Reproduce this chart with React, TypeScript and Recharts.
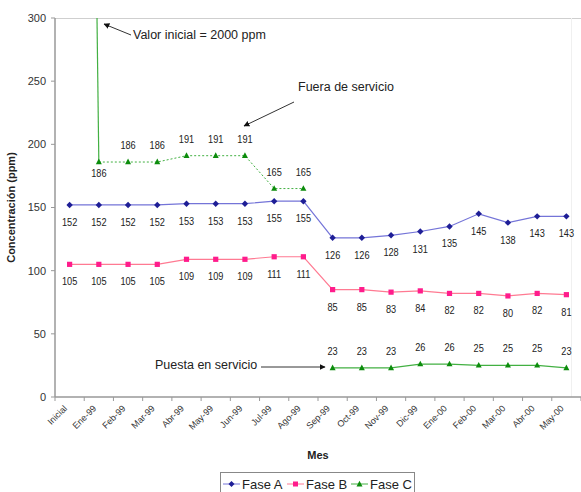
import React from 'react';
import { LineChart, Line, XAxis, YAxis, LabelList, Label } from 'recharts';

const meses = [
  'Inicial', 'Ene-99', 'Feb-99', 'Mar-99', 'Abr-99', 'May-99', 'Jun-99', 'Jul-99', 'Ago-99',
  'Sep-99', 'Oct-99', 'Nov-99', 'Dic-99', 'Ene-00', 'Feb-00', 'Mar-00', 'Abr-00', 'May-00',
];
const faseA = [152, 152, 152, 152, 153, 153, 153, 155, 155, 126, 126, 128, 131, 135, 145, 138, 143, 143];
const faseB = [105, 105, 105, 105, 109, 109, 109, 111, 111, 85, 85, 83, 84, 82, 82, 80, 82, 81];
const faseC = [2000, 186, 186, 186, 191, 191, 191, 165, 165, 23, 23, 23, 26, 26, 25, 25, 25, 23];
const yTicks = [0, 50, 100, 150, 200, 250, 300];

// tramos de la fase C: arranque, fuera de servicio (Ene-99..Ago-99) y puesta en servicio (Sep-99..)
const FIN_ARRANQUE = 1;
const FIN_FUERA = 8;

const data = meses.map((mes, i) => ({
  mes,
  a: faseA[i],
  b: faseB[i],
  cIni: i <= FIN_ARRANQUE ? faseC[i] : null,
  cFuera: i >= FIN_ARRANQUE && i <= FIN_FUERA ? faseC[i] : null,
  cServ: i > FIN_FUERA ? faseC[i] : null,
}));

const W = 581;
const H = 492;
const TOP = 18;
const EJE_Y = 55;
const BANDA = (W - EJE_Y) / meses.length;

const AZUL = '#7474d8';
const AZUL_M = '#1e1e96';
const ROSA = '#ff7a92';
const ROSA_M = '#ff1c8c';
const VERDE = '#42b042';
const VERDE_M = '#0c8c0c';

const FUENTE = '"Liberation Sans", Arial, sans-serif';

// texto estrecho (Arial Narrow no está disponible): se comprime en horizontal
const Estrecho = ({ x, y, size = 11, anchor = 'middle', children }: any) => (
  <text
    transform={`translate(${x},${y}) scale(0.8,1)`}
    textAnchor={anchor}
    fontSize={size}
    fontFamily={FUENTE}
    fill="#222"
  >
    {children}
  </text>
);

const Rombo = (p: any) => {
  const { cx, cy, index } = p;
  if (cx == null || cy == null) return <g key={index} />;
  return <polygon key={index} points={`${cx},${cy - 3.2} ${cx + 3.2},${cy} ${cx},${cy + 3.2} ${cx - 3.2},${cy}`} fill={AZUL_M} />;
};

const Cuadro = (p: any) => {
  const { cx, cy, index } = p;
  if (cx == null || cy == null) return <g key={index} />;
  return <rect key={index} x={cx - 2.6} y={cy - 2.6} width={5.2} height={5.2} fill={ROSA_M} />;
};

const Triangulo = (p: any) => {
  const { cx, cy, index } = p;
  if (cx == null || cy == null) return <g key={index} />;
  return <polygon key={index} points={`${cx},${cy - 3.4} ${cx + 3},${cy + 2.2} ${cx - 3},${cy + 2.2}`} fill={VERDE_M} />;
};

// etiqueta de valor sobre o bajo cada punto
const etiqueta = (dy: (i: number) => number) => (p: any) => {
  const x = p.x ?? p.viewBox?.x;
  const y = p.y ?? p.viewBox?.y;
  if (p.value == null || x == null || y == null) return null;
  return (
    <Estrecho key={p.index} x={x} y={y + dy(p.index)} size={11.5}>
      {p.value}
    </Estrecho>
  );
};

const TickMes = (p: any) => {
  const { x, y, payload, index } = p;
  return (
    <g transform={`translate(${x},${y})`}>
      <line x1={-BANDA / 2} x2={-BANDA / 2} y1={0} y2={4} stroke="#999" />
      {index === meses.length - 1 && <line x1={BANDA / 2} x2={BANDA / 2} y1={0} y2={4} stroke="#999" />}
      <text transform="translate(-2,12) rotate(-45)" textAnchor="end" fontSize={9} fontFamily={FUENTE} fill="#333">
        {payload.value}
      </text>
    </g>
  );
};

const Flecha = ({ x1, y1, x2, y2 }: { x1: number; y1: number; x2: number; y2: number }) => (
  <line x1={x1} y1={y1} x2={x2} y2={y2} stroke="#333" strokeWidth={1} markerEnd="url(#punta)" />
);

export default function App() {
  return (
    <div style={{ position: 'absolute', left: 0, top: 0, width: W, height: H, background: '#fff', overflow: 'hidden' }}>
      <svg width={W} height={H} style={{ position: 'absolute', left: 0, top: 0 }}>
        {/* borde superior y derecho del área de trazado */}
        <line x1={EJE_Y} x2={W} y1={TOP + 0.5} y2={TOP + 0.5} stroke="#cfcfcf" />
        <line x1={W - 9.5} x2={W - 9.5} y1={TOP} y2={397} stroke="#f0f0f0" />
      </svg>
      <LineChart
        width={W}
        height={H}
        data={data}
        margin={{ top: TOP, right: 0, bottom: 0, left: 0 }}
        style={{ position: 'absolute', left: 0, top: 0 }}
      >
        <XAxis
          dataKey="mes"
          height={H - 397}
          interval={0}
          padding={{ left: BANDA / 2, right: BANDA / 2 }}
          tickSize={0}
          tickMargin={0}
          tickLine={false}
          axisLine={{ stroke: '#999', strokeWidth: 1.5 }}
          tick={<TickMes />}
        >
          <Label value="Mes" position="insideBottom" offset={33} fontSize={11} fontWeight="bold" fontFamily={FUENTE} fill="#222" />
        </XAxis>
        <YAxis
          width={EJE_Y}
          domain={[0, 300]}
          ticks={yTicks}
          allowDataOverflow
          tickSize={4}
          tickMargin={5}
          axisLine={{ stroke: '#999', strokeWidth: 1.5 }}
          tickLine={{ stroke: '#999' }}
          tick={{ fontSize: 11, fill: '#333', fontFamily: FUENTE }}
        >
          <Label
            content={(p: any) => {
              const vb = p.viewBox || { x: 0, y: TOP, height: 379 };
              return (
                <text
                  transform={`translate(${vb.x + 15},${vb.y + vb.height / 2}) rotate(-90)`}
                  textAnchor="middle"
                  fontSize={11}
                  fontWeight="bold"
                  fontFamily={FUENTE}
                  fill="#222"
                >
                  Concentración (ppm)
                </text>
              );
            }}
          />
        </YAxis>

        <Line dataKey="a" name="Fase A" stroke={AZUL} strokeWidth={1.2} dot={Rombo} activeDot={false} isAnimationActive={false}>
          <LabelList dataKey="a" content={etiqueta(() => 21)} />
        </Line>
        <Line dataKey="b" name="Fase B" stroke={ROSA} strokeWidth={1.2} dot={Cuadro} activeDot={false} isAnimationActive={false}>
          <LabelList dataKey="b" content={etiqueta(() => 21)} />
        </Line>
        <Line dataKey="cIni" stroke={VERDE} strokeWidth={1.2} dot={false} activeDot={false} legendType="none" isAnimationActive={false} />
        <Line
          dataKey="cFuera"
          stroke={VERDE}
          strokeWidth={1}
          strokeDasharray="2 2"
          dot={Triangulo}
          activeDot={false}
          legendType="none"
          isAnimationActive={false}
        >
          <LabelList dataKey="cFuera" content={etiqueta((i) => (i === FIN_ARRANQUE ? 15 : -13))} />
        </Line>
        <Line dataKey="cServ" name="Fase C" stroke={VERDE} strokeWidth={1.2} dot={Triangulo} activeDot={false} isAnimationActive={false}>
          <LabelList dataKey="cServ" content={etiqueta(() => -13)} />
        </Line>
      </LineChart>

      <svg width={W} height={H} style={{ position: 'absolute', left: 0, top: 0, pointerEvents: 'none' }}>
        <defs>
          <marker id="punta" viewBox="0 0 10 10" refX={9} refY={5} markerWidth={6} markerHeight={6} orient="auto">
            <path d="M0,0 L10,5 L0,10 z" fill="#111" />
          </marker>
        </defs>
        <g fontFamily={FUENTE} fontSize={12.5} fill="#222">
          <text x={133} y={39}>Valor inicial = 2000 ppm</text>
          <text x={298} y={91}>Fuera de servicio</text>
          <text x={155} y={369}>Puesta en servicio</text>
        </g>
        <Flecha x1={131} y1={35} x2={104} y2={24} />
        <Flecha x1={294} y1={102} x2={244} y2={126} />
        <Flecha x1={261} y1={367} x2={325} y2={367} />

        {/* leyenda */}
        <rect x={220.5} y={472.5} width={194} height={24} fill="#fff" stroke="#888" />
        <g fontFamily={FUENTE} fontSize={13} fill="#222">
          <line x1={223} x2={240} y1={484} y2={484} stroke={AZUL} />
          <polygon points="231.5,481 234.5,484 231.5,487 228.5,484" fill={AZUL_M} />
          <text x={242} y={489}>Fase A</text>
          <line x1={287} x2={304} y1={484} y2={484} stroke={ROSA} />
          <rect x={293} y={481.5} width={5} height={5} fill={ROSA_M} />
          <text x={306} y={489}>Fase B</text>
          <line x1={351} x2={368} y1={484} y2={484} stroke={VERDE} />
          <polygon points="359.5,480.8 362.5,486.5 356.5,486.5" fill={VERDE_M} />
          <text x={370} y={489}>Fase C</text>
        </g>
      </svg>
    </div>
  );
}
